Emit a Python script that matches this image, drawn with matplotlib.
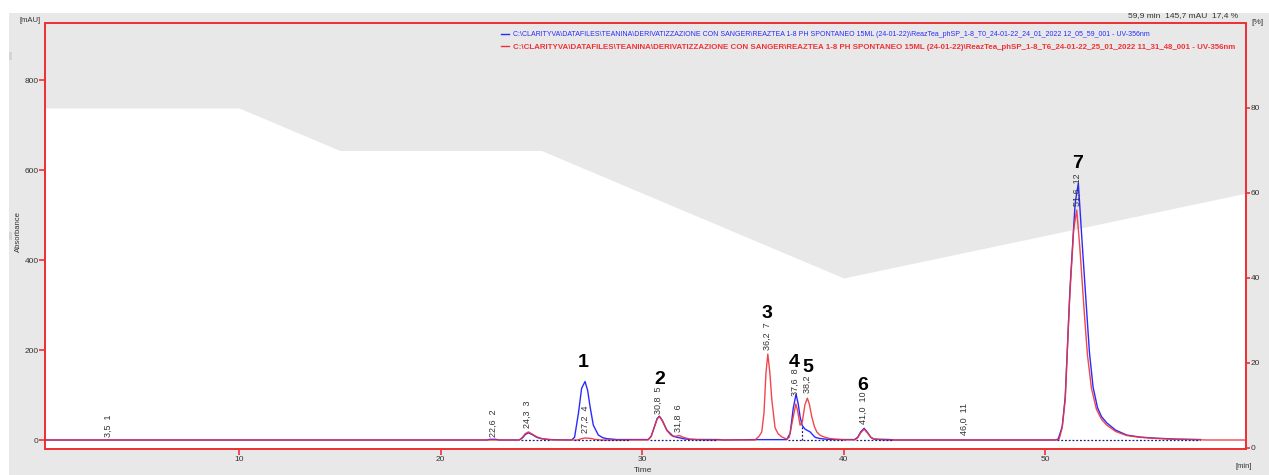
import matplotlib
matplotlib.use("Agg")
import matplotlib.pyplot as plt
from matplotlib.patches import Rectangle
from matplotlib.lines import Line2D

plt.rcParams['font.family'] = ['Liberation Sans', 'DejaVu Sans']

# ---------------- data ----------------
grad_time = [0, 10, 15, 25, 40, 60]
grad_pct = [80, 80, 70, 70, 40, 60]

blue_t = [0.37, 22.3, 22.45, 22.75, 22.9,
          23.9, 24.05, 24.2, 24.36, 24.55, 24.77, 25.0, 25.27, 25.6,
          26.5, 26.65, 26.84, 27.0, 27.17, 27.3, 27.42, 27.58, 27.83, 28.05, 28.25, 28.74, 29.2, 30.3,
          30.45, 30.6, 30.75, 30.86, 31.0, 31.23, 31.55, 31.85, 32.1, 32.38, 33.8, 34.0,
          35.5, 37.18, 37.35, 37.5, 37.64, 37.75, 37.84, 37.95, 38.09, 38.34, 38.5, 38.59, 38.8, 39.08, 39.5, 40.55,
          40.7, 40.85, 41.02, 41.2, 41.35, 41.5, 42.3, 42.5,
          50.5, 50.65, 50.85, 51.0, 51.24, 51.49, 51.65, 51.82, 52.07, 52.2, 52.38, 52.6, 52.8, 53.06,
          53.5, 54.05, 54.7, 55.5, 56.5, 57.7]
blue_v = [0, 0, 1.5, 1.5, 0,
          0, 4, 12, 16, 12, 6, 3, 1.5, 0.5,
          0, 6, 59, 115, 130, 110, 74, 33, 11, 5, 3, 1, 1, 1,
          8, 28, 48, 53, 44, 22, 8, 5, 2.5, 1.2, 1, 0,
          0.8, 0.8, 15, 70, 102, 80, 52, 32, 24, 18, 10, 6, 3.5, 2, 1, 1,
          6, 18, 26, 16, 6, 2, 1, 0,
          0, 2, 30, 96, 340, 526, 571, 451, 282, 195, 118, 72, 52, 38,
          22, 11, 6.5, 4, 2, 1]

red_t = [0.37, 23.9, 24.05, 24.2, 24.36, 24.55, 24.77, 25.0, 25.27, 25.6,
         26.8, 27.0, 27.2, 27.45, 27.7, 28.0,
         30.3, 30.45, 30.6, 30.75, 30.86, 31.0, 31.23, 31.45, 31.65, 31.85, 32.05, 32.38, 32.8, 33.2,
         35.6, 35.8, 35.94, 36.05, 36.15, 36.24, 36.34, 36.44, 36.6, 36.75, 36.93, 37.18,
         37.3, 37.45, 37.63, 37.72, 37.84, 37.95, 38.08, 38.2, 38.3, 38.42, 38.55, 38.67, 38.85,
         39.08, 39.3, 39.57, 40.0, 40.55,
         40.7, 40.85, 41.02, 41.2, 41.35, 41.5, 41.8, 42.2,
         50.55, 50.7, 50.85, 51.0, 51.2, 51.42, 51.57, 51.72, 51.95, 52.1, 52.3, 52.55, 52.8, 53.06,
         53.5, 54.05, 54.7, 55.5, 56.5, 57.7, 58.0, 59.97]
red_v = [0, 0, 5, 14, 18, 13, 7, 3.5, 1.5, 0,
         0, 3, 4.5, 3.5, 1, 0,
         0, 8, 27, 47, 52, 43, 21, 10, 8, 10, 6, 2, 0.5, 0,
         0, 8, 18, 60, 150, 191, 150, 89, 27, 14, 7, 2,
         6, 40, 80, 65, 33, 40, 78, 93, 80, 52, 30, 18, 10,
         6, 3.5, 2, 0.5, 0,
         5, 16, 24, 15, 6, 2, 0.5, 0,
         0, 2, 28, 90, 300, 470, 511, 430, 280, 190, 115, 68, 46, 33,
         19, 10, 6, 3.5, 1.5, 0.5, 0, 0]

# integration baselines (start, end) in min
base_start = [24.0, 26.6, 30.4, 37.25, 40.6, 50.6]
base_end = [25.5, 29.4, 33.7, 40.05, 42.4, 57.7]
drop_time = 37.94
drop_value = 33

peak_rt = [3.5, 22.6, 24.3, 27.2, 30.8, 31.8, 36.2, 37.6, 38.2, 41.0, 46.0, 51.6]
peak_no = [1, 2, 3, 4, 5, 6, 7, 8, 9, 10, 11, 12]
peak_label_y = [7, 7, 27, 16, 58, 18, 200, 98, 104, 36, 11, 520]

big_labels = ['1', '2', '3', '4', '5', '6', '7']
big_t = [27.07, 30.9, 36.2, 37.55, 38.24, 40.97, 51.6]
big_v = [173, 135, 282, 173, 162, 122, 615]

blue_name = ("C:\\CLARITYVA\\DATAFILES\\TEANINA\\DERIVATIZZAZIONE CON SANGER\\REAZTEA 1-8 PH SPONTANEO 15ML "
             "(24-01-22)\\ReazTea_phSP_1-8_T0_24-01-22_24_01_2022 12_05_59_001 - UV-356nm")
red_name = ("C:\\CLARITYVA\\DATAFILES\\TEANINA\\DERIVATIZZAZIONE CON SANGER\\REAZTEA 1-8 PH SPONTANEO 15ML "
            "(24-01-22)\\ReazTea_phSP_1-8_T6_24-01-22_25_01_2022 11_31_48_001 - UV-356nm")

# ---------------- styles ----------------
W, H = 1269, 475
GRAY = '#e8e8e8'
RED = '#ee3338'
BLUE = '#2a2aff'
TXT = '#333333'

fig = plt.figure(figsize=(W / 100, H / 100), dpi=100)
fig.patch.set_facecolor('white')
fig.add_artist(Rectangle((9 / W, 0), 1 - 9 / W, (H - 13) / H, transform=fig.transFigure,
                         facecolor=GRAY, edgecolor='none', zorder=-5))
for yy in (52, 232):
    fig.add_artist(Rectangle((9 / W, 1 - (yy + 8) / H), 3 / W, 8 / H, transform=fig.transFigure,
                             facecolor='#d4d4d4', edgecolor='none', zorder=-4))

ax = fig.add_axes([45 / W, (H - 449) / H, 1201 / W, 426 / H])
ax2 = ax.twinx()
ax.set_zorder(ax2.get_zorder() + 1)
ax.patch.set_visible(False)
ax2.patch.set_visible(True)
ax2.patch.set_facecolor('white')

ax.set_xlim(0.37, 59.97)
ax.set_ylim(-20, 927)
ax2.set_ylim(-0.25, 100)

# gradient shading
ax2.fill_between(grad_time, grad_pct, 100, color=GRAY, lw=0, zorder=0)

# traces
ax.plot(blue_t, blue_v, color=BLUE, lw=1.0, zorder=3)
ax.plot(red_t, red_v, color=RED, lw=1.0, zorder=4, alpha=0.9)
ax.hlines([0] * len(base_start), base_start, base_end, colors='#1a1a80',
          linestyles=(0, (1.5, 1.5)), lw=0.9, zorder=5)
ax.vlines([drop_time], [0], [drop_value], colors='#1a1a80', linestyles=(0, (1.5, 1.5)), lw=0.9, zorder=5)

# peak labels
for rt, no, y in zip(peak_rt, peak_no, peak_label_y):
    ax.text(rt, y, f"{rt:.1f}".replace('.', ',') + "  " + str(no), rotation=90,
            ha='center', va='bottom', fontsize=6.5, color=TXT, zorder=6)

for lab, t, v in zip(big_labels, big_t, big_v):
    kw = {}
    if lab == '5':
        kw['bbox'] = dict(boxstyle='square,pad=0.0', fc='white', ec='none')
    ax.text(t, v, lab, ha='center', va='center', fontsize=14, fontweight='bold', color='black',
            zorder=7, **kw)

# axes styling
for a in (ax, ax2):
    for s in a.spines.values():
        s.set_color(RED)
        s.set_linewidth(1.4)
ax.set_xticks([10, 20, 30, 40, 50])
ax.set_yticks([0, 200, 400, 600, 800])
ax2.set_yticks([0, 20, 40, 60, 80])
ax.tick_params(axis='both', colors=RED, labelcolor=TXT, labelsize=6, length=4, width=1.2, pad=1)
ax.tick_params(axis='y', pad=0.5)
ax2.tick_params(axis='y', colors=RED, labelcolor=TXT, labelsize=6, length=3, width=1.2, pad=0.5)

# legend
h1 = Line2D([], [], color=BLUE, lw=1)
h2 = Line2D([], [], color=RED, lw=1)
leg = ax.legend([h1, h2], [blue_name, red_name], loc='upper left',
                bbox_to_anchor=(501 / W, 1 - 31 / H), bbox_transform=fig.transFigure,
                frameon=False, borderpad=0, borderaxespad=0, handlelength=1.0,
                handletextpad=0.5, labelspacing=0.6, prop={'size': 5.6})
t0, t1 = leg.get_texts()
t0.set_color(BLUE)
t0.set_fontsize(5.0)
t1.set_color(RED)
t1.set_fontweight('bold')
t1.set_fontsize(5.7)
leg.set_zorder(10)

def ftext(x, y, s, **kw):
    fig.text(x / W, 1 - y / H, s, **kw)

ftext(1238, 16, "59,9 min  145,7 mAU  17,4 %", ha='right', va='center', fontsize=6, color=TXT)
ftext(20, 21, "[mAU]", ha='left', va='center', fontsize=5.5, color=TXT)
ftext(1251, 22, "[%]", ha='left', va='center', fontsize=6, color=TXT)
ftext(1244, 467, "[min]", ha='center', va='center', fontsize=5.5, color=TXT)
ftext(643, 471, "Time", ha='center', va='center', fontsize=6, color=TXT)
ftext(18, 232, "Absorbance", ha='center', va='center', fontsize=5.5, color=TXT, rotation=90)

fig.savefig('out.png', dpi=100, facecolor=fig.get_facecolor())
